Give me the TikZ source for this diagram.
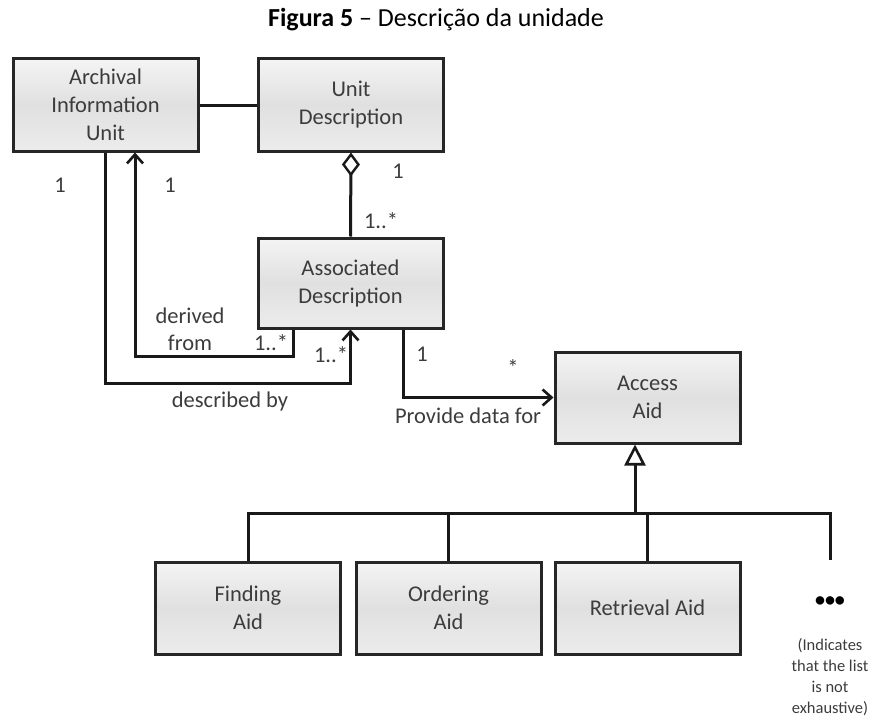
\documentclass[tikz,border=0pt]{standalone}
\usepackage{fontspec}
\setmainfont{Carlito}
\usetikzlibrary{arrows.meta}
\definecolor{txt}{HTML}{3C3C3C}
\definecolor{boxtop}{HTML}{F4F4F4}
\definecolor{boxmid}{HTML}{E0E0E0}
\definecolor{boxbot}{HTML}{ECECEC}
\begin{document}
\begin{tikzpicture}[x=1pt,y=-1pt,
  umlbox/.style={draw=black!85, line width=3pt, top color=boxtop, bottom color=boxbot, middle color=boxmid,
    minimum width=185pt, minimum height=92pt, align=center, text=txt,
    font=\fontsize{22.5}{28}\selectfont, inner sep=0pt},
  lbl/.style={text=txt, font=\fontsize{22.5}{27}\selectfont, inner sep=0pt, align=center},
  conn/.style={line width=3pt, black!90},
  arr/.style={conn, -{Straight Barb[length=9pt,width=16pt,line width=2.6pt]}},
  gen/.style={conn, -{Triangle[open,length=21pt,width=21pt,line width=2.6pt,fill=white]}},
  agg/.style={conn, {Diamond[open,length=24pt,width=18pt,line width=2.4pt,fill=white]}-}]
\useasboundingbox (0,0) rectangle (872,717);

\node (title) at (436,20) {\fontsize{26}{30}\selectfont\textbf{Figura 5} – Descrição da unidade};

\node[umlbox] (aiu) at (105.5,105) {Archival\\Information\\Unit};
\node[umlbox] (ud) at (351,105) {Unit\\Description};
\node[umlbox, minimum height=90pt] (ad) at (350.5,283) {Associated\\Description};
\node[umlbox, minimum height=91pt] (access) at (647.5,397.5) {Access\\Aid};
\node[umlbox] (finding) at (248,608) {Finding\\Aid};
\node[umlbox] (ordering) at (448.5,608) {Ordering\\Aid};
\node[umlbox] (retrieval) at (647.5,608) {Retrieval Aid};

\coordinate (cA) at (135,0);
\coordinate (cB) at (293,0);
\coordinate (cC) at (403,0);
\coordinate (cG) at (635,0);
\coordinate (busL) at (248,513);
\coordinate (dotsend) at (830,560);

% connectors
\draw[conn] (aiu.east) -- (ud.west);
\draw[agg] (ud.south) -- (ad.north);
\draw[arr] (aiu.south) -- ++(0,231) -| (ad.south);
\draw[arr] (ad.south -| cB) -- ++(0,27) -| (aiu.south -| cA);
\draw[arr] (ad.south -| cC) |- (access.west);
\draw[conn] (finding.north) -- (busL) -| (dotsend);
\draw[conn] (ordering.north) -- (ordering.north |- busL);
\draw[conn] (retrieval.north) -- (retrieval.north |- busL);
\draw[gen] (busL -| cG) -- (access.south -| cG);

% labels
\node[lbl] (m1) at (60,185) {1};
\node[lbl] (m2) at (170,185) {1};
\node[lbl] (m3) at (398,171) {1};
\node[lbl] (m4) at (381,221) {1..*};
\node[lbl] (derived) at (190,329) {derived\\from};
\node[lbl] (m5) at (271,343) {1..*};
\node[lbl] (m6) at (331,355) {1..*};
\node[lbl] (descby) at (230,401) {described by};
\node[lbl] (m7) at (422,354) {1};
\node[lbl] (m8) at (513,368) {*};
\node[lbl] (provide) at (468,416) {Provide data for};
\node[text=black, font=\fontsize{20}{20}\selectfont\bfseries, inner sep=0pt] (dots) at (830,602) {\textbullet\textbullet\textbullet};
\node[lbl, font=\fontsize{16.5}{21}\selectfont] (note) at (830,677) {(Indicates\\that the list\\is not\\exhaustive)};
\end{tikzpicture}
\end{document}
